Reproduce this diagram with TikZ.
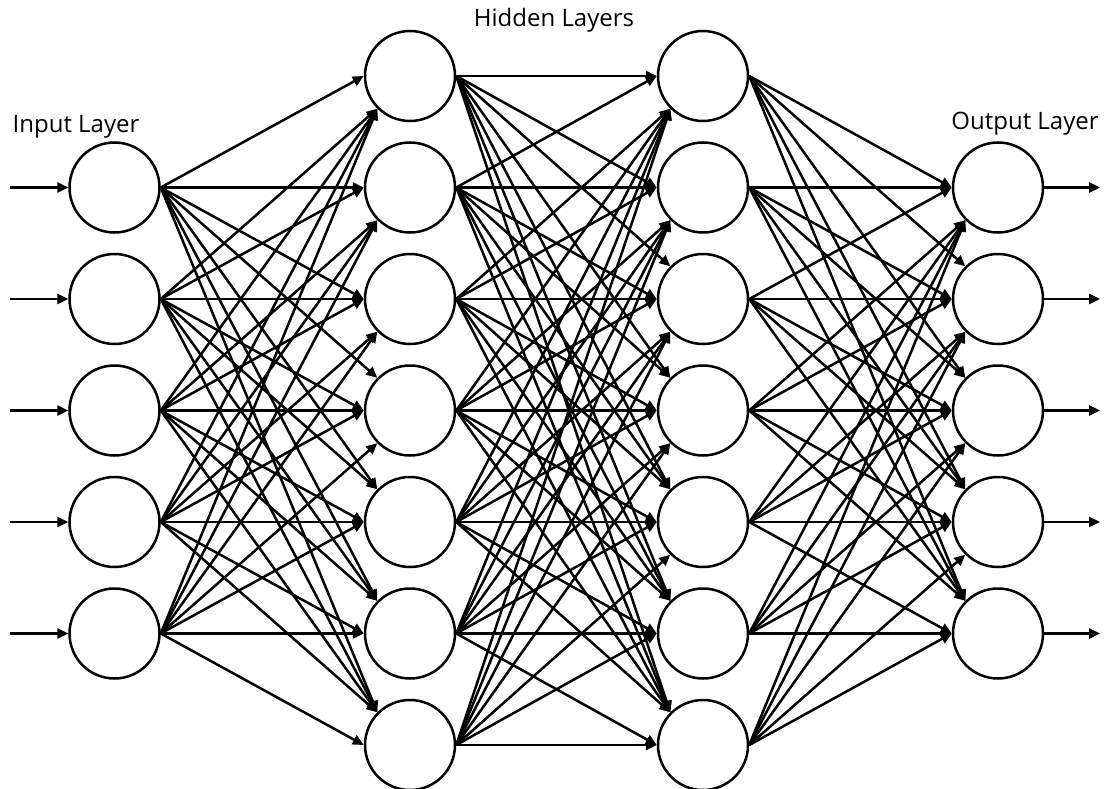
\documentclass[tikz,border=0pt]{standalone}
\usepackage{fontspec}
\setmainfont{Open Sans}
\usetikzlibrary{arrows.meta}
\begin{document}
\begin{tikzpicture}[x=1pt,y=-1pt,
  neuron/.style={circle,draw,line width=2.5pt,minimum size=90pt,inner sep=0pt},
  conn/.style={line width=2.5pt,-{Triangle[length=11pt,width=10pt]}},
  lbl/.style={font=\fontsize{24}{28}\selectfont,anchor=base}]
\useasboundingbox (0,0) rectangle (1105,789);
% nodes
\foreach \k in {1,...,5} \node[neuron] (i\k) at (114.5,{76+111.5*\k}) {};
\foreach \k in {1,...,7} \node[neuron] (a\k) at (410,{76+111.5*(\k-1)}) {};
\foreach \k in {1,...,7} \node[neuron] (b\k) at (703,{76+111.5*(\k-1)}) {};
\foreach \k in {1,...,5} \node[neuron] (o\k) at (998,{76+111.5*\k}) {};
% labels
\node[lbl] (lin) at (76,132) {Input Layer};
\node[lbl] (lhid) at (554,27) {Hidden Layers};
\node[lbl] (lout) at (1025,130) {Output Layer};
% input / output arrows
\foreach \k in {1,...,5}{
  \coordinate (in\k) at (10,{76+111.5*\k});
  \coordinate (out\k) at (1100,{76+111.5*\k});
  \draw[conn] (in\k) -- (i\k.west);
  \draw[conn] (o\k.east) -- (out\k);
}
% input -> hidden 1
\foreach \s in {1,...,5}{\foreach \t in {1,...,7}{
  \pgfmathtruncatemacro\d{\t-1-\s}
  \ifnum\d>1 \def\anc{north west}\else\ifnum\d<-1 \def\anc{south west}\else\def\anc{west}\fi\fi
  \draw[conn] (i\s.east) -- (a\t.\anc);
}}
% hidden 1 -> hidden 2
\foreach \s in {1,...,7}{\foreach \t in {1,...,7}{
  \pgfmathtruncatemacro\d{\t-\s}
  \ifnum\d>1 \def\anc{north west}\else\ifnum\d<-1 \def\anc{south west}\else\def\anc{west}\fi\fi
  \draw[conn] (a\s.east) -- (b\t.\anc);
}}
% hidden 2 -> output
\foreach \s in {1,...,7}{\foreach \t in {1,...,5}{
  \pgfmathtruncatemacro\d{\t+1-\s}
  \ifnum\d>1 \def\anc{north west}\else\ifnum\d<-1 \def\anc{south west}\else\def\anc{west}\fi\fi
  \draw[conn] (b\s.east) -- (o\t.\anc);
}}
\end{tikzpicture}
\end{document}
